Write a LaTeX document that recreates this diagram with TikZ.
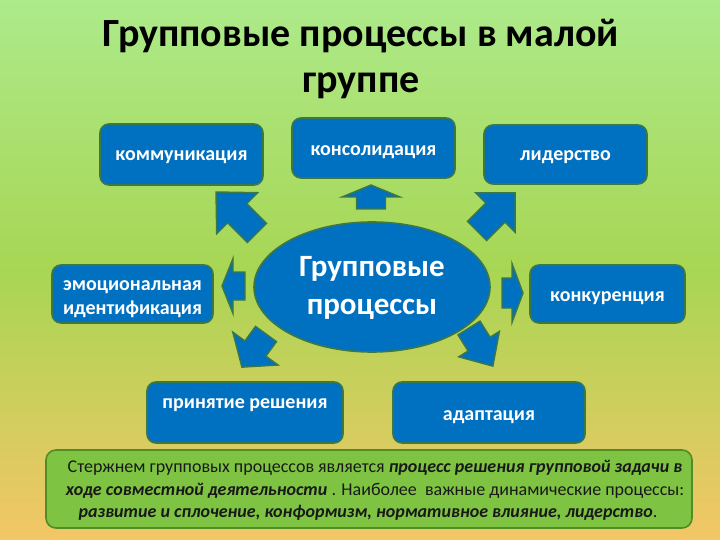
\documentclass[tikz,border=0pt]{standalone}
\usepackage{fontspec}
\setmainfont{Carlito}
\usetikzlibrary{shapes.geometric}
\definecolor{bgtop}{RGB}{172,234,138}
\definecolor{bgmid}{RGB}{168,214,84}
\definecolor{bgbot}{RGB}{244,198,102}
\definecolor{boxblue}{RGB}{0,112,192}
\definecolor{boxedge}{RGB}{60,120,70}
\definecolor{notefill}{RGB}{126,196,66}
\definecolor{noteedge}{RGB}{80,140,40}
\definecolor{notetext}{RGB}{25,25,25}
\newcommand{\blockarrow}[7]{%
  \begin{scope}[shift={(#1,#2)}, rotate=#3]
    \draw[blk] (0,-#7) -- (#4-#5,-#7) -- (#4-#5,-#6) -- (#4,0) -- (#4-#5,#6) -- (#4-#5,#7) -- (0,#7) -- cycle;
  \end{scope}}
\begin{document}
\begin{tikzpicture}[x=1pt,y=-1pt,
  box/.style={draw=boxedge, line width=1.6pt, fill=boxblue, rounded corners=9pt, inner sep=0pt},
  boxtxt/.style={text=white, font=\fontsize{20}{24}\selectfont\bfseries, anchor=base, inner sep=0pt},
  coretxt/.style={text=white, font=\fontsize{31}{36}\selectfont\bfseries, anchor=base, inner sep=0pt},
  titletxt/.style={text=black, font=\fontsize{40}{48}\selectfont\bfseries, anchor=base, inner sep=0pt},
  notetxt/.style={text=notetext, font=\fontsize{18}{22}\selectfont, anchor=base, inner sep=0pt},
  blk/.style={draw=boxedge, line width=1.4pt, fill=boxblue, line join=miter},
]
\useasboundingbox (0,0) rectangle (720,540);
\shade[top color=bgtop, bottom color=bgbot, middle color=bgmid] (0,0) rectangle (720,540);

% title
\node[titletxt] (t1) at (361,47) {Групповые процессы в малой};
\node[titletxt] (t2) at (361,93) {группе};

% block arrows
\blockarrow{257}{233}{135}{58}{30}{29}{13.5}
\blockarrow{371}{209}{90}{24}{12}{29}{14.5}
\blockarrow{477}{231}{45}{54}{28}{28}{13.5}
\blockarrow{245}{286}{180}{23}{11}{27.5}{14}
\blockarrow{502}{293}{0}{21}{11}{29.5}{15}
\blockarrow{266}{334}{234}{41}{23}{28}{13}
\blockarrow{469}{328}{-58}{45}{26}{24}{13}

% centre
\node[draw=boxedge, line width=1.6pt, fill=boxblue, ellipse, minimum width=236pt, minimum height=130pt, inner sep=0pt] (core) at (372,287) {};
\node[coretxt] (c1) at (372,276) {Групповые};
\node[coretxt] (c2) at (372,314) {процессы};

% boxes
\node[box, minimum width=163pt, minimum height=61pt] (komm) at (181.5,154.5) {};
\node[boxtxt] (kommt) at (181.5,160.5) {коммуникация};
\node[box, minimum width=163pt, minimum height=60pt] (kons) at (373.5,148) {};
\node[boxtxt] (konst) at (373.5,155.5) {консолидация};
\node[box, minimum width=163pt, minimum height=59pt] (lid) at (565.5,154.5) {};
\node[boxtxt] (lidt) at (565.5,160.5) {лидерство};
\node[box, minimum width=161pt, minimum height=58pt] (emo) at (132.5,294) {};
\node[boxtxt] (emot1) at (132.5,290) {эмоциональная};
\node[boxtxt] (emot2) at (132.5,314) {идентификация};
\node[box, minimum width=155pt, minimum height=58pt] (konk) at (607.5,294) {};
\node[boxtxt] (konkt) at (607.5,301.5) {конкуренция};
\node[box, minimum width=196pt, minimum height=61pt] (prin) at (245,412.5) {};
\node[boxtxt] (print) at (245,408) {принятие решения};
\node[box, minimum width=192pt, minimum height=61pt] (adap) at (489,412.5) {};
\node[boxtxt] (adapt) at (489,420) {адаптация};

% note
\node[draw=noteedge, line width=1.6pt, fill=notefill, rounded corners=10pt, minimum width=646pt, minimum height=78pt, inner sep=0pt] (note) at (369,489) {};
\node[notetxt] (n1) at (375,472) {Стержнем групповых процессов является \textbf{\textit{процесс решения групповой задачи в}}};
\node[notetxt] (n2) at (375,495) {\textbf{\textit{ходе совместной деятельности}} . Наиболее\ \ важные динамические процессы:};
\node[notetxt] (n3) at (368,517) {\textbf{\textit{развитие и сплочение, конформизм, нормативное влияние, лидерство}}.};
\end{tikzpicture}
\end{document}
